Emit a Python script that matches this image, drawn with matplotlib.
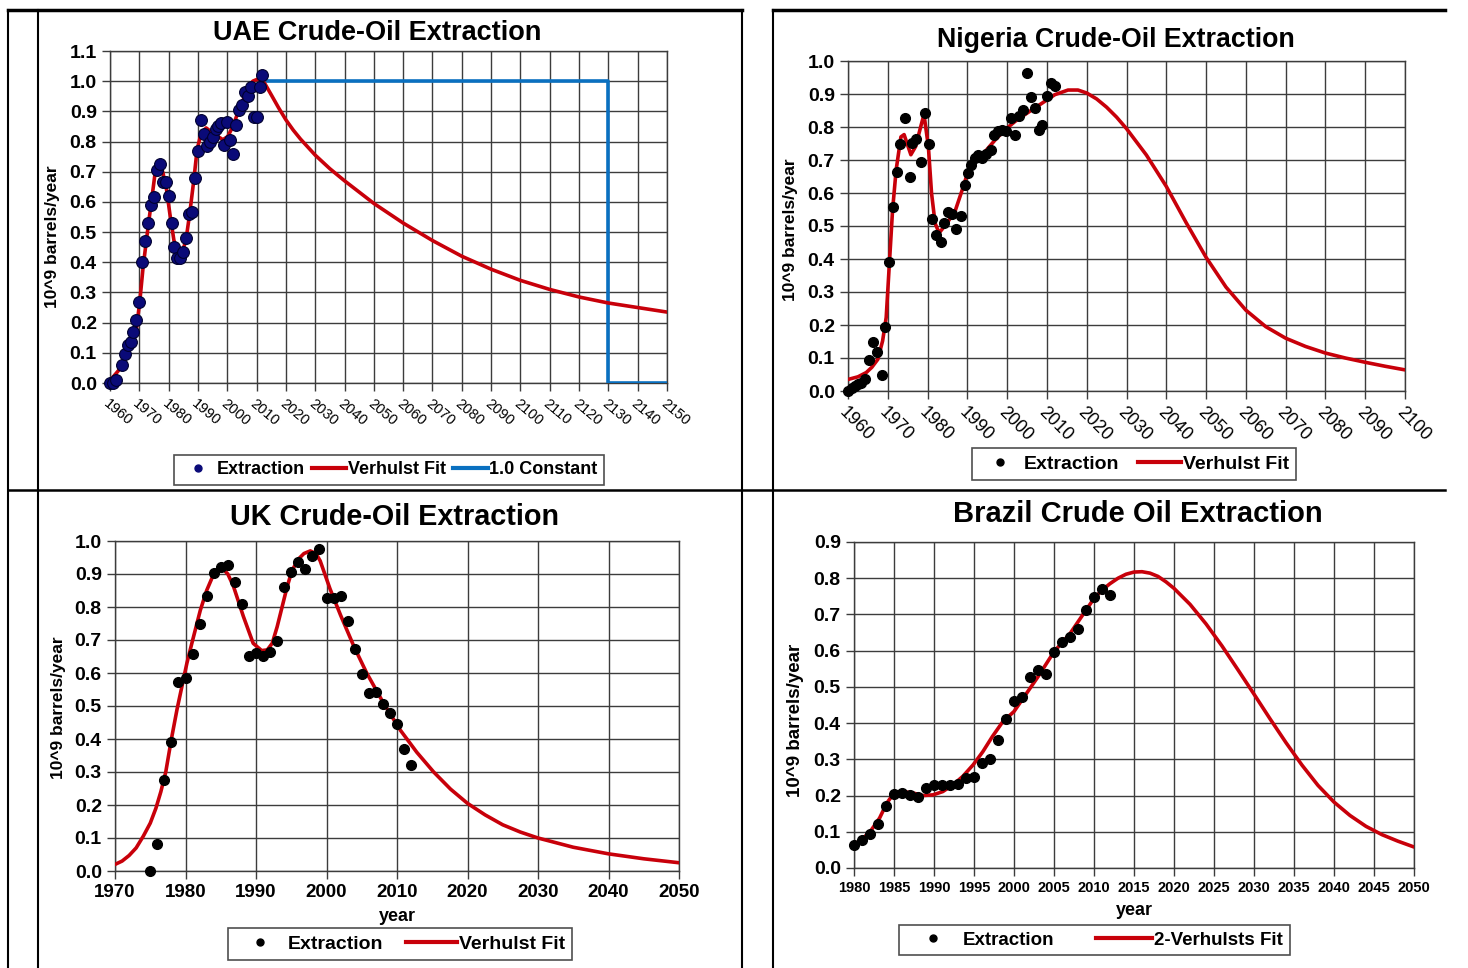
import matplotlib
matplotlib.use('Agg')
import matplotlib.pyplot as plt
from matplotlib.lines import Line2D
from matplotlib import font_manager

# ---------------- data ----------------
uae_years = [1960, 1961, 1962, 1964, 1965, 1966, 1967, 1968, 1969, 1970, 1971, 1972, 1973, 1974,
             1975, 1976, 1977, 1978, 1979, 1980, 1981, 1982, 1983, 1984, 1985, 1986, 1987, 1988,
             1989, 1990, 1991, 1992, 1993, 1994, 1995, 1996, 1997, 1998, 1999, 2000, 2001, 2002,
             2003, 2004, 2005, 2006, 2007, 2008, 2009, 2010, 2011, 2012]
uae_values = [0.0, 0.0, 0.01, 0.06, 0.095, 0.125, 0.135, 0.17, 0.21, 0.27, 0.40, 0.47, 0.53, 0.59,
              0.615, 0.705, 0.725, 0.665, 0.665, 0.62, 0.53, 0.45, 0.415, 0.415, 0.435, 0.48, 0.56, 0.565,
              0.68, 0.77, 0.87, 0.825, 0.785, 0.80, 0.815, 0.84, 0.85, 0.86, 0.79, 0.865, 0.805, 0.76,
              0.855, 0.905, 0.92, 0.965, 0.95, 0.98, 0.88, 0.88, 0.98, 1.02]
uae_fit_years = [1960, 1963.4, 1966.8, 1969.1, 1970.2, 1971.3, 1973, 1974.5, 1975.6, 1977, 1978.1,
                 1979.3, 1980.4, 1981.8, 1983.3, 1984.7, 1985.9, 1987.2, 1988.6, 1989.7, 1991.1,
                 1992.8, 1995.1, 1996.8, 1998.5, 2000.2, 2001.9, 2004.2, 2006.5, 2008.7, 2010.7,
                 2012.7, 2015, 2017.5, 2020, 2022.5, 2025, 2030, 2035, 2040, 2050, 2060, 2070,
                 2080, 2090, 2100, 2110, 2120, 2130, 2140, 2150]
uae_fit_values = [0.008, 0.047, 0.119, 0.185, 0.274, 0.385, 0.518, 0.629, 0.712, 0.734, 0.695,
                  0.64, 0.562, 0.473, 0.429, 0.435, 0.473, 0.562, 0.673, 0.773, 0.828,
                  0.845, 0.828, 0.817, 0.806, 0.817, 0.85, 0.911, 0.961, 1.0, 1.008,
                  0.994, 0.955, 0.912, 0.872, 0.838, 0.808, 0.755, 0.71, 0.67, 0.595, 0.53,
                  0.472, 0.42, 0.377, 0.34, 0.31, 0.285, 0.265, 0.25, 0.235]
uae_const_years = [2012, 2130, 2130, 2150]
uae_const_values = [1.0, 1.0, 0.0, 0.0]
uae_ticks = list(range(1960, 2151, 10))

nga_years = [1960, 1961, 1961.7, 1962.5, 1963.3, 1964.2, 1965.2, 1966.2, 1967.2, 1968.6, 1969.4,
             1970.4, 1971.4, 1972.2, 1973.1, 1974.3, 1975.5, 1976.2, 1977.2, 1978.3, 1979.3,
             1980.4, 1981.2, 1982.2, 1983.3, 1984.1, 1985.1, 1986.2, 1987.2, 1988.3, 1989.3,
             1990.1, 1990.9, 1992, 1992.8, 1993.8, 1994.7, 1995.9, 1996.7, 1997.8, 1998.8,
             1999.6, 2000.9, 2001.9, 2002.9, 2004.1, 2004.9, 2005.9, 2006.9, 2008, 2008.8,
             2010.1, 2011, 2012]
nga_values = [0.0, 0.01, 0.015, 0.02, 0.025, 0.035, 0.093, 0.149, 0.117, 0.049, 0.195,
              0.391, 0.558, 0.663, 0.748, 0.827, 0.647, 0.751, 0.763, 0.695, 0.841,
              0.748, 0.52, 0.472, 0.452, 0.508, 0.543, 0.536, 0.49, 0.53, 0.624,
              0.66, 0.685, 0.706, 0.716, 0.706, 0.719, 0.731, 0.777, 0.787, 0.792,
              0.789, 0.827, 0.777, 0.832, 0.853, 0.964, 0.89, 0.858, 0.792, 0.805,
              0.893, 0.934, 0.924]
nga_fit_years = [1960, 1962.5, 1964.6, 1966, 1967.5, 1968.7, 1969.6, 1970.4, 1971.2, 1972.1, 1973.3,
                 1974.1, 1975.8, 1977, 1978.3, 1979.1, 1980.2, 1981, 1981.9, 1982.9, 1984.1, 1985.4,
                 1987, 1988.7, 1990.3, 1992, 1994.5, 1997, 1999.5, 2002, 2004.5, 2007, 2009.5,
                 2012, 2015.3, 2017.8, 2020, 2022.5, 2025, 2027.5, 2030, 2035, 2040, 2045, 2050,
                 2055, 2060, 2065, 2070, 2075, 2080, 2085, 2090, 2095, 2100]
nga_fit_values = [0.035, 0.043, 0.056, 0.072, 0.096, 0.152, 0.223, 0.386, 0.548, 0.67, 0.77,
                  0.777, 0.716, 0.741, 0.802, 0.838, 0.741, 0.599, 0.508, 0.479, 0.497, 0.518,
                  0.548, 0.609, 0.67, 0.70, 0.726, 0.761, 0.792, 0.817, 0.838, 0.858, 0.878,
                  0.898, 0.912, 0.912, 0.903, 0.885, 0.86, 0.83, 0.795, 0.715, 0.62, 0.51, 0.405,
                  0.315, 0.245, 0.195, 0.16, 0.135, 0.115, 0.10, 0.087, 0.075, 0.064]
nga_ticks = list(range(1960, 2101, 10))

uk_years = [1975, 1976, 1977, 1978, 1979, 1980, 1981, 1982, 1983, 1984, 1985, 1986, 1987, 1988,
            1989, 1990, 1991, 1992, 1993, 1994, 1995, 1996, 1997, 1998, 1999, 2000, 2001, 2002,
            2003, 2004, 2005, 2006, 2007, 2008, 2009, 2010, 2011, 2012]
uk_values = [0.0, 0.083, 0.276, 0.391, 0.572, 0.584, 0.657, 0.748, 0.834, 0.904, 0.922, 0.926,
             0.876, 0.81, 0.653, 0.662, 0.652, 0.665, 0.697, 0.86, 0.907, 0.937, 0.916, 0.954,
             0.977, 0.827, 0.827, 0.834, 0.759, 0.672, 0.597, 0.538, 0.541, 0.506, 0.479,
             0.445, 0.371, 0.32]
uk_fit_years = [1970, 1971, 1972, 1973, 1974, 1975, 1975.8, 1976.5, 1977.2, 1978, 1978.8, 1979.5,
                1980.2, 1980.9, 1982.1, 1983, 1983.8, 1984.5, 1985.2, 1986, 1986.8, 1988.2, 1989.6,
                1990.8, 1991.6, 1992.3, 1993, 1993.7, 1994.4, 1995.1, 1996, 1996.8, 1997.7,
                1998.5, 1999.1, 2000.5, 2002, 2003.9, 2005.7, 2008.1, 2010.5, 2012.8, 2015.2,
                2017.6, 2020, 2022.5, 2025, 2027.5, 2030, 2035, 2040, 2045, 2050]
uk_fit_values = [0.02, 0.03, 0.047, 0.07, 0.105, 0.145, 0.19, 0.24, 0.30, 0.40, 0.49, 0.56,
                 0.63, 0.69, 0.79, 0.85, 0.89, 0.91, 0.918, 0.9, 0.863, 0.772, 0.69,
                 0.668, 0.67, 0.69, 0.74, 0.80, 0.86, 0.91, 0.945, 0.962, 0.97,
                 0.962, 0.94, 0.855, 0.775, 0.68, 0.60, 0.508, 0.426, 0.36, 0.30,
                 0.248, 0.205, 0.17, 0.14, 0.118, 0.10, 0.072, 0.052, 0.037, 0.025]
uk_ticks = list(range(1970, 2051, 10))

bra_years = list(range(1980, 2013))
bra_values = [0.064, 0.076, 0.095, 0.122, 0.172, 0.205, 0.208, 0.202, 0.197, 0.22, 0.23, 0.23,
              0.23, 0.232, 0.248, 0.251, 0.289, 0.302, 0.354, 0.41, 0.462, 0.473, 0.528, 0.546,
              0.535, 0.597, 0.624, 0.638, 0.661, 0.712, 0.748, 0.769, 0.753]
bra_fit_years = [1980, 1981.2, 1982.2, 1983.2, 1984.1, 1985, 1986.1, 1987.4, 1988.6, 1989.9,
                 1991.1, 1992.4, 1993.6, 1994.9, 1996.1, 1997.3, 1998.6, 2000, 2001.5, 2003,
                 2005, 2007, 2009, 2010, 2011, 2012, 2013, 2014, 2015, 2016, 2017, 2018, 2019,
                 2020, 2022, 2024, 2026, 2028, 2030, 2032, 2034, 2036, 2038, 2040, 2042, 2044,
                 2046, 2048, 2050]
bra_fit_values = [0.064, 0.083, 0.106, 0.138, 0.179, 0.207, 0.211, 0.207, 0.20, 0.202,
                  0.211, 0.23, 0.253, 0.285, 0.321, 0.363, 0.404, 0.432, 0.48, 0.528,
                  0.597, 0.647, 0.712, 0.744, 0.767, 0.785, 0.80, 0.811, 0.817, 0.818, 0.814,
                  0.805, 0.79, 0.772, 0.728, 0.674, 0.613, 0.547, 0.48, 0.412, 0.346, 0.284,
                  0.228, 0.182, 0.145, 0.115, 0.092, 0.074, 0.058]
bra_ticks = list(range(1980, 2051, 5))

# ---------------- style ----------------
avail = {f.name for f in font_manager.fontManager.ttflist}
FONT = 'Liberation Sans' if 'Liberation Sans' in avail else 'DejaVu Sans'
plt.rcParams['font.family'] = FONT

W, H = 1468, 968
GRID = '#3c3c3c'
RED = '#c8000a'
BLUE = '#0a70c0'
NAVY = '#0a0a78'
YLABEL = '10^9 barrels/year'

fig = plt.figure(figsize=(W / 100, H / 100), dpi=100)
fig.patch.set_facecolor('white')


def axes_px(x0, y0, x1, y1):
    return fig.add_axes([x0 / W, 1 - y1 / H, (x1 - x0) / W, (y1 - y0) / H])


def style(ax, xlim, ylim, xticks, ytop, ystep):
    ax.set_xlim(*xlim)
    ax.set_ylim(*ylim)
    ax.set_xticks(xticks)
    n = int(round(ytop / ystep))
    yt = [round(i * ystep, 2) for i in range(n + 1)]
    ax.set_yticks(yt)
    ax.set_yticklabels([f'{v:.1f}' for v in yt])
    ax.grid(True, color=GRID, lw=1.0)
    ax.set_axisbelow(True)
    for s in ax.spines.values():
        s.set_color(GRID)
        s.set_linewidth(1.0)
    ax.tick_params(direction='out', length=6, width=1, color=GRID)
    for lab in ax.get_yticklabels():
        lab.set_fontsize(14)
        lab.set_fontweight('bold')
    ax.patch.set_facecolor('white')


def legend(cx, cy, handles, labels, fs=13, cs=0.4, hl=1.9):
    leg = fig.legend(handles, labels, loc='center', bbox_to_anchor=(cx / W, 1 - cy / H),
                     ncol=len(handles), frameon=True, fancybox=False, shadow=False,
                     prop={'size': fs, 'weight': 'bold'}, handlelength=hl, handletextpad=0.1,
                     columnspacing=cs, borderpad=0.35)
    leg.get_frame().set_edgecolor('#222222')
    leg.get_frame().set_linewidth(1.2)
    return leg


def dot(c):
    return Line2D([], [], ls='none', marker='o', ms=5, color=c)


def line(c):
    return Line2D([], [], color=c, lw=3)


def title(x, y, s, fs=19):
    fig.text(x / W, 1 - y / H, s, ha='center', va='center', fontsize=fs, fontweight='bold')


def ylab(x, y, fs=12.5):
    fig.text(x / W, 1 - y / H, YLABEL, rotation=90, ha='center', va='center',
             fontsize=fs, fontweight='bold')


FIT = dict(color=RED, lw=2.6, zorder=4, solid_joinstyle='round', solid_capstyle='round')

# ---------------- UAE ----------------
ax = axes_px(110, 51, 667, 383)
style(ax, (1960, 2150), (0, 1.1), uae_ticks, 1.1, 0.1)
ax.set_xticklabels([str(t) for t in uae_ticks], rotation=-40, ha='left', va='top',
                   rotation_mode='anchor', fontsize=10.5)
ax.plot(uae_const_years, uae_const_values, color=BLUE, lw=2.6, zorder=3)
ax.plot(uae_fit_years, uae_fit_values, **FIT)
ax.plot(uae_years, uae_values, ls='none', marker='o', ms=8.5, mfc=NAVY, mec='#000030',
        mew=0.8, zorder=5, clip_on=False)
title(377, 33, 'UAE Crude-Oil Extraction', 19.5)
ylab(52, 237)
legend(389, 470, [dot(NAVY), line(RED), line(BLUE)], ['Extraction', 'Verhulst Fit', '1.0 Constant'])

# ---------------- Nigeria ----------------
ax = axes_px(848, 61, 1405, 391)
style(ax, (1960, 2100), (0, 1.0), nga_ticks, 1.0, 0.1)
ax.set_xticklabels([str(t) for t in nga_ticks], rotation=-45, ha='left', va='top',
                   rotation_mode='anchor', fontsize=13)
ax.plot(nga_fit_years, nga_fit_values, **FIT)
ax.plot(nga_years, nga_values, ls='none', marker='o', ms=7, color='black', zorder=5, clip_on=False)
title(1116, 40, 'Nigeria Crude-Oil Extraction', 19.3)
ylab(790, 230)
legend(1134, 464, [dot('black'), line(RED)], ['Extraction', 'Verhulst Fit'], fs=14, cs=1.0, hl=2.2)

# ---------------- UK ----------------
ax = axes_px(115, 541, 679, 871)
style(ax, (1970, 2050), (0, 1.0), uk_ticks, 1.0, 0.1)
ax.set_xticklabels([str(t) for t in uk_ticks], fontsize=13.5, fontweight='bold')
ax.plot(uk_fit_years, uk_fit_values, **FIT)
ax.plot(uk_years, uk_values, ls='none', marker='o', ms=7, color='black', zorder=5, clip_on=False)
title(395, 517, 'UK Crude-Oil Extraction', 20.7)
ax.set_xlabel('year', fontsize=13, fontweight='bold', labelpad=5)
ylab(58, 708)
legend(400, 944, [dot('black'), line(RED)], ['Extraction', 'Verhulst Fit'], fs=14, cs=1.2, hl=2.6)

# ---------------- Brazil ----------------
ax = axes_px(854, 542, 1414, 868)
style(ax, (1980, 2050), (0, 0.9), bra_ticks, 0.9, 0.1)
ax.set_xticklabels([str(t) for t in bra_ticks], fontsize=10.5, fontweight='bold')
ax.plot(bra_fit_years, bra_fit_values, **FIT)
ax.plot(bra_years, bra_values, ls='none', marker='o', ms=7, color='black', zorder=5, clip_on=False)
title(1138, 514, 'Brazil Crude Oil Extraction', 21)
ax.set_xlabel('year', fontsize=13, fontweight='bold', labelpad=5)
ylab(795, 720, 13.5)
legend(1094, 940, [dot('black'), line(RED)], ['Extraction', '2-Verhulsts Fit'], fs=13.5, cs=2.2, hl=3.0)

# ---------------- table lines ----------------
def fline(x0, y0, x1, y1, lw=1.5, c='black'):
    fig.add_artist(Line2D([x0 / W, x1 / W], [1 - y0 / H, 1 - y1 / H], color=c, lw=lw,
                          transform=fig.transFigure))

fline(8, 10, 742, 10, lw=2.5)
fline(773, 10, 1445, 10, lw=2.5)
fline(8, 490, 1445, 490, lw=1.8)
for xv in (8, 38, 742, 773):
    fline(xv, 10, xv, 968, lw=1.5)

fig.savefig('out.png', dpi=100)
